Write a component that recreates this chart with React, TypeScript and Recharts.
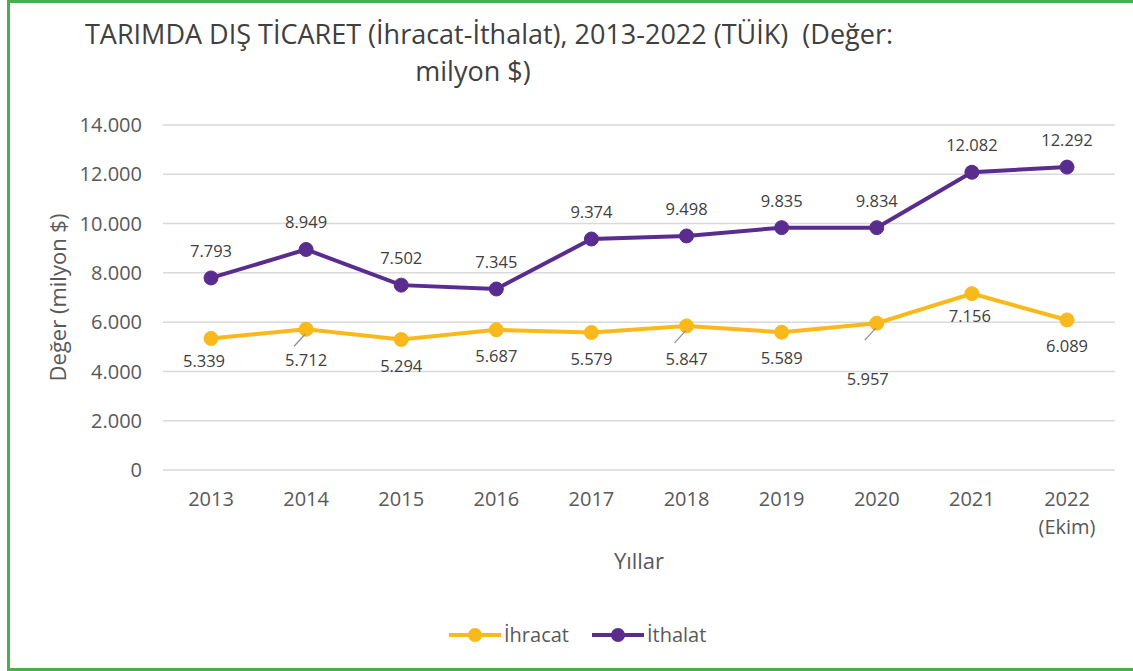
import { LineChart, Line, XAxis, YAxis, CartesianGrid, Legend, Label, LabelList } from 'recharts';

const years = ['2013', '2014', '2015', '2016', '2017', '2018', '2019', '2020', '2021', '2022 (Ekim)'];
const ihracat = [5339, 5712, 5294, 5687, 5579, 5847, 5589, 5957, 7156, 6089];
const ithalat = [7793, 8949, 7502, 7345, 9374, 9498, 9835, 9834, 12082, 12292];
const yTicks = [0, 2000, 4000, 6000, 8000, 10000, 12000, 14000];

const EXPORT_COLOR = '#f9b91a';
const IMPORT_COLOR = '#5b2c8f';
const FONT = '"Open Sans", sans-serif';

const data = years.map((year, i) => ({ year, ihracat: ihracat[i], ithalat: ithalat[i] }));

const fmt = (n: number) => String(n).replace(/\B(?=(\d{3})+(?!\d))/g, '.');

// a few export labels sit further off with a small leader line, like in the source
const exportShift: Record<number, { dx: number; dy: number; leader?: boolean }> = {
  0: { dx: -7, dy: 23 },
  1: { dx: 0, dy: 31, leader: true },
  5: { dx: 0, dy: 33, leader: true },
  7: { dx: -9, dy: 56, leader: true },
  8: { dx: -2, dy: 22 },
};

const ExportLabel = (props: any) => {
  const { x, y, value, index } = props;
  const s = exportShift[index] || { dx: 0, dy: 26 };
  const cx = x + s.dx;
  const cy = y + s.dy;
  return (
    <g>
      {s.leader && (
        <line x1={x - 1} y1={y + 5} x2={x - 12} y2={y + 17} stroke="#8c8c8c" strokeWidth={1.2} />
      )}
      <text x={cx} y={cy + 6} textAnchor="middle" fontSize={16.5} fontFamily={FONT} fill="#404040">
        {fmt(value)}
      </text>
    </g>
  );
};

const ImportLabel = (props: any) => {
  const { x, y, value } = props;
  return (
    <text x={x} y={y - 27 + 6} textAnchor="middle" fontSize={16.5} fontFamily={FONT} fill="#404040">
      {fmt(value)}
    </text>
  );
};

const YearTick = (props: any) => {
  const { x, y, payload } = props;
  const parts = String(payload.value).split(' ');
  return (
    <g>
      {parts.map((p, i) => (
        <text key={i} x={x} y={y + 26 + i * 28} textAnchor="middle" fontSize={20} fontFamily={FONT} fill="#595959">
          {p}
        </text>
      ))}
    </g>
  );
};

const LegendContent = () => {
  const items = [
    { name: 'İhracat', color: EXPORT_COLOR },
    { name: 'İthalat', color: IMPORT_COLOR },
  ];
  return (
    <div style={{ display: 'flex', alignItems: 'center', fontFamily: FONT, fontSize: 20, color: '#595959' }}>
      {items.map((it) => (
        <div key={it.name} style={{ display: 'flex', alignItems: 'center', marginRight: 22 }}>
          <svg width={54} height={20}>
            <line x1={1} y1={10} x2={53} y2={10} stroke={it.color} strokeWidth={4} />
            <circle cx={27} cy={10} r={7} fill={it.color} />
          </svg>
          <span style={{ marginLeft: 2 }}>{it.name}</span>
        </div>
      ))}
    </div>
  );
};

export default function App() {
  return (
    <div style={{ position: 'absolute', left: 0, top: 0, width: 1133, height: 671, background: '#fff', overflow: 'hidden' }}>
      <div
        style={{
          position: 'absolute',
          left: 7,
          top: 0,
          width: 1140,
          height: 665,
          border: '3px solid #4aae4f',
          boxSizing: 'content-box',
        }}
      />
      <div
        style={{
          position: 'absolute',
          left: 0,
          top: 15,
          width: 978,
          textAlign: 'center',
          fontFamily: FONT,
          fontSize: 27,
          color: '#404040',
          whiteSpace: 'pre',
          lineHeight: '37px',
        }}
      >
        <div>TARIMDA DIŞ TİCARET (İhracat-İthalat), 2013-2022 (TÜİK)  (Değer:</div>
        <div style={{ marginLeft: -32 }}>milyon $)</div>
      </div>
      <div style={{ position: 'absolute', left: 0, top: 0 }}>
        <LineChart width={1133} height={671} data={data} margin={{ top: 125, right: 18, bottom: 141, left: 0 }}>
          <CartesianGrid vertical={false} stroke="#d9d9d9" strokeWidth={1.5} />
          <XAxis
            dataKey="year"
            axisLine={false}
            tickLine={false}
            tickMargin={4}
            height={60}
            padding={{ left: 48, right: 48 }}
            tick={<YearTick />}
            interval={0}
          >
            <Label value="Yıllar" position="bottom" offset={23} fontSize={22} fontFamily={FONT} fill="#595959" />
          </XAxis>
          <YAxis
            width={163}
            domain={[0, 14000]}
            ticks={yTicks}
            axisLine={false}
            tickLine={false}
            tickMargin={15}
            tickFormatter={fmt}
            tick={{ fontSize: 20, fontFamily: FONT, fill: '#595959' }}
          >
            <Label
              content={({ viewBox }: any) => {
                const cx = viewBox.x + 57;
                const cy = viewBox.y + viewBox.height / 2;
                return (
                  <text
                    x={cx}
                    y={cy}
                    transform={`rotate(-90 ${cx} ${cy})`}
                    textAnchor="middle"
                    dominantBaseline="central"
                    fontSize={22}
                    fontFamily={FONT}
                    fill="#595959"
                  >
                    Değer (milyon $)
                  </text>
                );
              }}
            />
          </YAxis>
          <Legend
            verticalAlign="middle"
            align="center"
            layout="horizontal"
            content={<LegendContent />}
            wrapperStyle={{ left: 448, top: 621, width: 320 }}
          />
          <Line
            name="İhracat"
            dataKey="ihracat"
            stroke={EXPORT_COLOR}
            strokeWidth={4}
            dot={{ r: 7, fill: EXPORT_COLOR, stroke: EXPORT_COLOR, strokeWidth: 1 }}
            activeDot={false}
            isAnimationActive={false}
          >
            <LabelList dataKey="ihracat" content={<ExportLabel />} />
          </Line>
          <Line
            name="İthalat"
            dataKey="ithalat"
            stroke={IMPORT_COLOR}
            strokeWidth={4}
            dot={{ r: 7, fill: IMPORT_COLOR, stroke: IMPORT_COLOR, strokeWidth: 1 }}
            activeDot={false}
            isAnimationActive={false}
          >
            <LabelList dataKey="ithalat" content={<ImportLabel />} />
          </Line>
        </LineChart>
      </div>
    </div>
  );
}
